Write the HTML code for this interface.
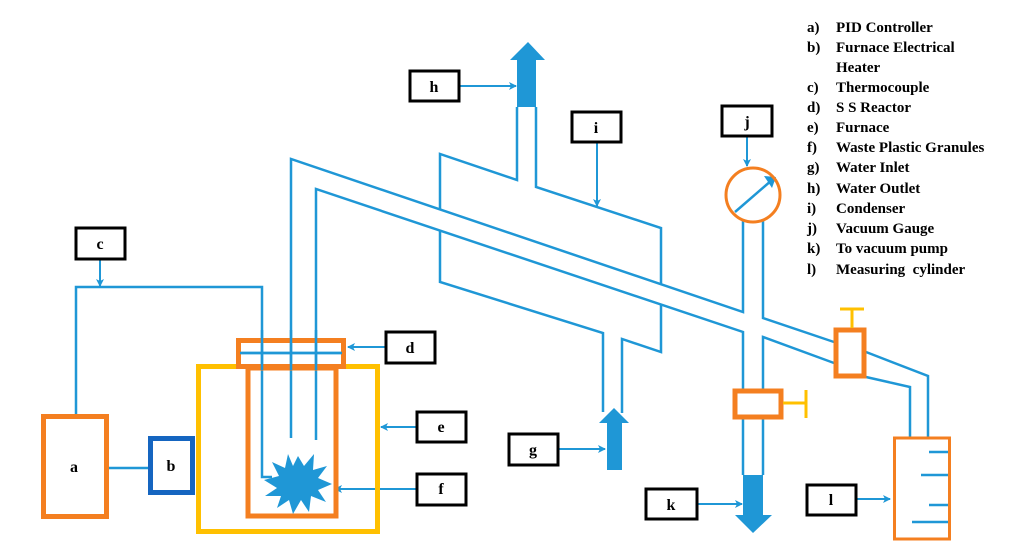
<!DOCTYPE html>
<html><head><meta charset="utf-8"><style>
html,body{margin:0;padding:0;background:#fff;}
svg{display:block;}
text{font-family:"Liberation Serif",serif;font-weight:bold;}
</style></head><body>
<svg width="1033" height="551" viewBox="0 0 1033 551" xmlns="http://www.w3.org/2000/svg">
<defs>
<marker id="ar" markerWidth="8" markerHeight="8" refX="7" refY="4" orient="auto" markerUnits="userSpaceOnUse">
<path d="M0,0 L8,4 L0,8 L2,4 Z" fill="#1f97d6"/></marker>
</defs>
<g fill="none" stroke="#1f97d6" stroke-width="2.5">
<polyline points="76,414 76,287 262,287 262,477 272,477"/>
<line x1="107" y1="468" x2="148" y2="468"/>
<line x1="240" y1="353" x2="342" y2="353"/>
<polyline points="291,438 291,159 743,312 743,220"/>
<polyline points="316,440 316,189 743,332 743,389"/>
<polyline points="763,220 763,318 834,342"/>
<polyline points="866,352 928,376 928,437"/>
<polyline points="763,389 763,337 834,363"/>
<polyline points="866,377 910,387 910,437"/>
<line x1="743" y1="419" x2="743" y2="475"/>
<line x1="763" y1="419" x2="763" y2="475"/>
<polyline points="440,209 440,154 517,180 517,107"/>
<polyline points="536,107 536,187 661,228 661,284"/>
<polyline points="661,304 661,352 622,339 622,413"/>
<polyline points="440,230 440,282 603,333 603,412"/>
<line x1="735" y1="212" x2="772" y2="180"/>
<line x1="929" y1="452" x2="950" y2="452"/>
<line x1="921" y1="475" x2="950" y2="475"/>
<line x1="929" y1="505" x2="950" y2="505"/>
<line x1="912" y1="522" x2="950" y2="522"/>
</g>
<polygon points="764,176 776,177 772,188" fill="#1f97d6"/>
<g stroke="#1f97d6" stroke-width="2" marker-end="url(#ar)">
<line x1="100" y1="259" x2="100" y2="286"/>
<line x1="385" y1="347" x2="348" y2="347"/>
<line x1="416" y1="427" x2="381" y2="427"/>
<line x1="416" y1="489" x2="335" y2="489"/>
<line x1="558" y1="449" x2="605" y2="449"/>
<line x1="459" y1="86" x2="516" y2="86"/>
<line x1="597" y1="142" x2="597" y2="206"/>
<line x1="747" y1="136" x2="747" y2="166"/>
<line x1="697" y1="504" x2="742" y2="504"/>
<line x1="856" y1="499" x2="890" y2="499"/>
</g>
<rect x="43.5" y="416.5" width="63" height="100" fill="none" stroke="#f47f20" stroke-width="5"/>
<rect x="150.5" y="438.5" width="42" height="54" fill="none" stroke="#1565c0" stroke-width="5"/>
<rect x="198.5" y="366.5" width="179" height="165" fill="none" stroke="#ffc000" stroke-width="5"/>
<rect x="248" y="368" width="88" height="148" fill="none" stroke="#f47f20" stroke-width="5"/>
<rect x="238.5" y="340.5" width="105" height="26" fill="none" stroke="#f47f20" stroke-width="5"/>
<rect x="735" y="391" width="46" height="26" fill="none" stroke="#f47f20" stroke-width="5"/>
<rect x="836" y="330" width="28" height="46" fill="none" stroke="#f47f20" stroke-width="5"/>
<rect x="894.5" y="438" width="55" height="101" fill="none" stroke="#f47f20" stroke-width="3"/>
<circle cx="753" cy="195" r="27" fill="none" stroke="#f47f20" stroke-width="3"/>
<g stroke="#ffc000" stroke-width="3">
<line x1="783" y1="403" x2="806" y2="403"/><line x1="806" y1="390" x2="806" y2="418"/>
<line x1="852" y1="309" x2="852" y2="328"/><line x1="840" y1="309" x2="864" y2="309"/>
</g>
<g stroke="#1f97d6" stroke-width="2.5">
<line x1="240" y1="353" x2="342" y2="353"/>
<line x1="262" y1="330" x2="262" y2="370"/>
<line x1="291" y1="330" x2="291" y2="370"/>
<line x1="316" y1="330" x2="316" y2="370"/>
</g>
<polygon fill="#1f97d6" points="517,107 536,107 536,60 545,60 528,42 510,60 517,60"/>
<polygon fill="#1f97d6" points="607,470 622,470 622,423 629,423 614,408 599,423 607,423"/>
<polygon fill="#1f97d6" points="743,475 763,475 763,515 772,515 753,533 735,515 743,515"/>
<polygon fill="#1f97d6" points="298,456 304,466 314,454 313,470 327,466 318,478 332,484 318,490 326,502 311,496 309,512 301,500 293,514 289,500 277,508 281,496 265,496 277,488 264,480 279,476 272,462 285,468 288,454 293,466"/>
<g fill="#fff" stroke="#000" stroke-width="3">
<rect x="76" y="228" width="49" height="31"/>
<rect x="386" y="332" width="49" height="31"/>
<rect x="417" y="412" width="49" height="30"/>
<rect x="417" y="474" width="49" height="31"/>
<rect x="509" y="434" width="49" height="31"/>
<rect x="410" y="71" width="49" height="30"/>
<rect x="572" y="112" width="49" height="30"/>
<rect x="722" y="106" width="50" height="30"/>
<rect x="646" y="489" width="51" height="30"/>
<rect x="807" y="485" width="49" height="30"/>
</g>
<g font-size="16" text-anchor="middle">
<text x="100" y="249">c</text>
<text x="74" y="472">a</text>
<text x="171" y="471">b</text>
<text x="410" y="353">d</text>
<text x="441" y="432">e</text>
<text x="441" y="494">f</text>
<text x="533" y="455">g</text>
<text x="434" y="92">h</text>
<text x="596" y="133">i</text>
<text x="747" y="127">j</text>
<text x="671" y="510">k</text>
<text x="831" y="505">l</text>
</g>
<g font-size="15">
<text x="807" y="32">a)</text><text x="836" y="32">PID Controller</text>
<text x="807" y="52">b)</text><text x="836" y="52">Furnace Electrical</text>
<text x="836" y="72">Heater</text>
<text x="807" y="92">c)</text><text x="836" y="92">Thermocouple</text>
<text x="807" y="112">d)</text><text x="836" y="112">S S Reactor</text>
<text x="807" y="132">e)</text><text x="836" y="132">Furnace</text>
<text x="807" y="152">f)</text><text x="836" y="152">Waste Plastic Granules</text>
<text x="807" y="172">g)</text><text x="836" y="172">Water Inlet</text>
<text x="807" y="193">h)</text><text x="836" y="193">Water Outlet</text>
<text x="807" y="213">i)</text><text x="836" y="213">Condenser</text>
<text x="807" y="233">j)</text><text x="836" y="233">Vacuum Gauge</text>
<text x="807" y="253">k)</text><text x="836" y="253">To vacuum pump</text>
<text x="807" y="274">l)</text><text x="836" y="274">Measuring&#160; cylinder</text>
</g>
</svg>
</body></html>
